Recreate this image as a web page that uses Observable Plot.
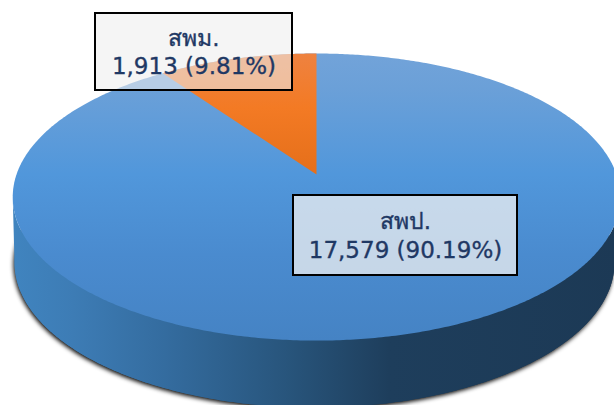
<!DOCTYPE html>
<html><head><meta charset="utf-8">
<script src="https://cdn.jsdelivr.net/npm/d3@7"></script>
<script src="https://cdn.jsdelivr.net/npm/@observablehq/plot@0.6"></script>
<style>
html,body{margin:0;padding:0;background:#fff}
svg{display:block}
.wall{filter:drop-shadow(-1px 2px 2px rgba(0,0,0,.95))}
</style></head><body><div id="chart"></div>
<script>
const categories = ["สพป.", "สพม."];
const counts = [17579, 1913];
const countLabels = ["17,579", "1,913"];
const shareLabels = ["90.19%", "9.81%"];

// Perspective view of the pie
const W = 614, H = 405, cx = 316, cy = 174, B = 300, A = 140, k = 0.157;
const lowerSx = 0.9875, lowerSy = 1.01, lowerDx = -2, lowerDrop = 65.3;
const project = (t, r = 1, lower = false) => {
  const u = r * Math.sin(t), v = r * Math.cos(t), d = 1 + k * v;
  return {
    x: cx + (lower ? lowerDx : 0) + (lower ? lowerSx : 1) * B * u / d,
    y: cy + (lower ? lowerDrop : 0) - (lower ? lowerSy : 1) * A * v / d
  };
};
const arc = (a0, a1, lower) => {
  const n = Math.max(2, Math.ceil(Math.abs(a1 - a0) / 0.01));
  return d3.range(n + 1).map(i => project(a0 + (a1 - a0) * i / n, 1, lower));
};
const arcs = d3.pie().sort(null)(counts);
const slices = arcs.map(a => [project(0, 0), ...arc(a.startAngle, a.endAngle, false)]);
const edge = Math.acos(-k);
const wall = [...arc(edge, 2 * Math.PI - edge, false), ...arc(2 * Math.PI - edge, edge, true)];
const lowerDisc = arc(0, 2 * Math.PI, true);
const upperDisc = arc(0, 2 * Math.PI, false);

// Label boxes: layout follows the category order
const boxes = categories.map((c, i) => ({
  text: `${c}\n${countLabels[i]} (${shareLabels[i]})`,
  x1: [293, 95][i], x2: [517, 292][i], y1: [195, 13][i], y2: [275, 90][i],
  fill: ["#f2f2f2", "#ededed"][i], op: [0.74, 0.58][i]
}));

const grad = (id, vertical, stops) => () => {
  const g = d3.create("svg:linearGradient").attr("id", id)
    .attr("x1", 0).attr("y1", 0).attr("x2", vertical ? 0 : 1).attr("y2", vertical ? 1 : 0);
  stops.forEach(([o, c]) => g.append("stop").attr("offset", o).attr("stop-color", c));
  const defs = d3.create("svg:defs"); defs.append(() => g.node());
  return defs.node();
};

const plot = Plot.plot({
  width: W, height: H, margin: 0,
  x: {domain: [0, W], range: [0, W], axis: null},
  y: {domain: [0, H], range: [0, H], axis: null},
  style: {background: "#fff", overflow: "hidden"},
  marks: [
    grad("gTop", true, [[0, "#72a3d9"], [0.12, "#6ba0d8"], [0.42, "#5197db"], [0.7, "#4a8bcf"], [1, "#4583c4"]]),
    grad("gOrange", true, [[0, "#ee8240"], [0.45, "#f37a24"], [1, "#e56f1a"]]),
    grad("gWall", false, [[0, "#4084bf"], [0.1, "#3d7cb5"], [0.25, "#346c9f"], [0.45, "#28557c"], [0.62, "#1e3e5c"], [1, "#1c3955"]]),
    Plot.line(lowerDisc, {x: "x", y: "y", fill: "url(#gWall)", stroke: "none", className: "wall"}),
    Plot.line(wall, {x: "x", y: "y", fill: "url(#gWall)", stroke: "none"}),
    Plot.line(upperDisc, {x: "x", y: "y", fill: "url(#gTop)", stroke: "none"}),
    Plot.line(slices[1], {x: "x", y: "y", fill: "url(#gOrange)", stroke: "none"}),
    ...boxes.map(b => Plot.rect([b], {
      x1: "x1", x2: "x2", y1: "y1", y2: "y2", fill: b.fill, fillOpacity: b.op,
      stroke: "#000", strokeWidth: 2
    })),
    Plot.text(boxes, {
      x: d => (d.x1 + d.x2) / 2, y: d => (d.y1 + d.y2) / 2 - 1, text: "text",
      fill: "#1f3864", stroke: "#1f3864", strokeWidth: 0.35, fontSize: 23, lineHeight: 1.22, lineAnchor: "middle",
      fontFamily: "'DejaVu Sans','Noto Sans',sans-serif"
    })
  ]
});
document.getElementById("chart").append(plot);
</script></body></html>
